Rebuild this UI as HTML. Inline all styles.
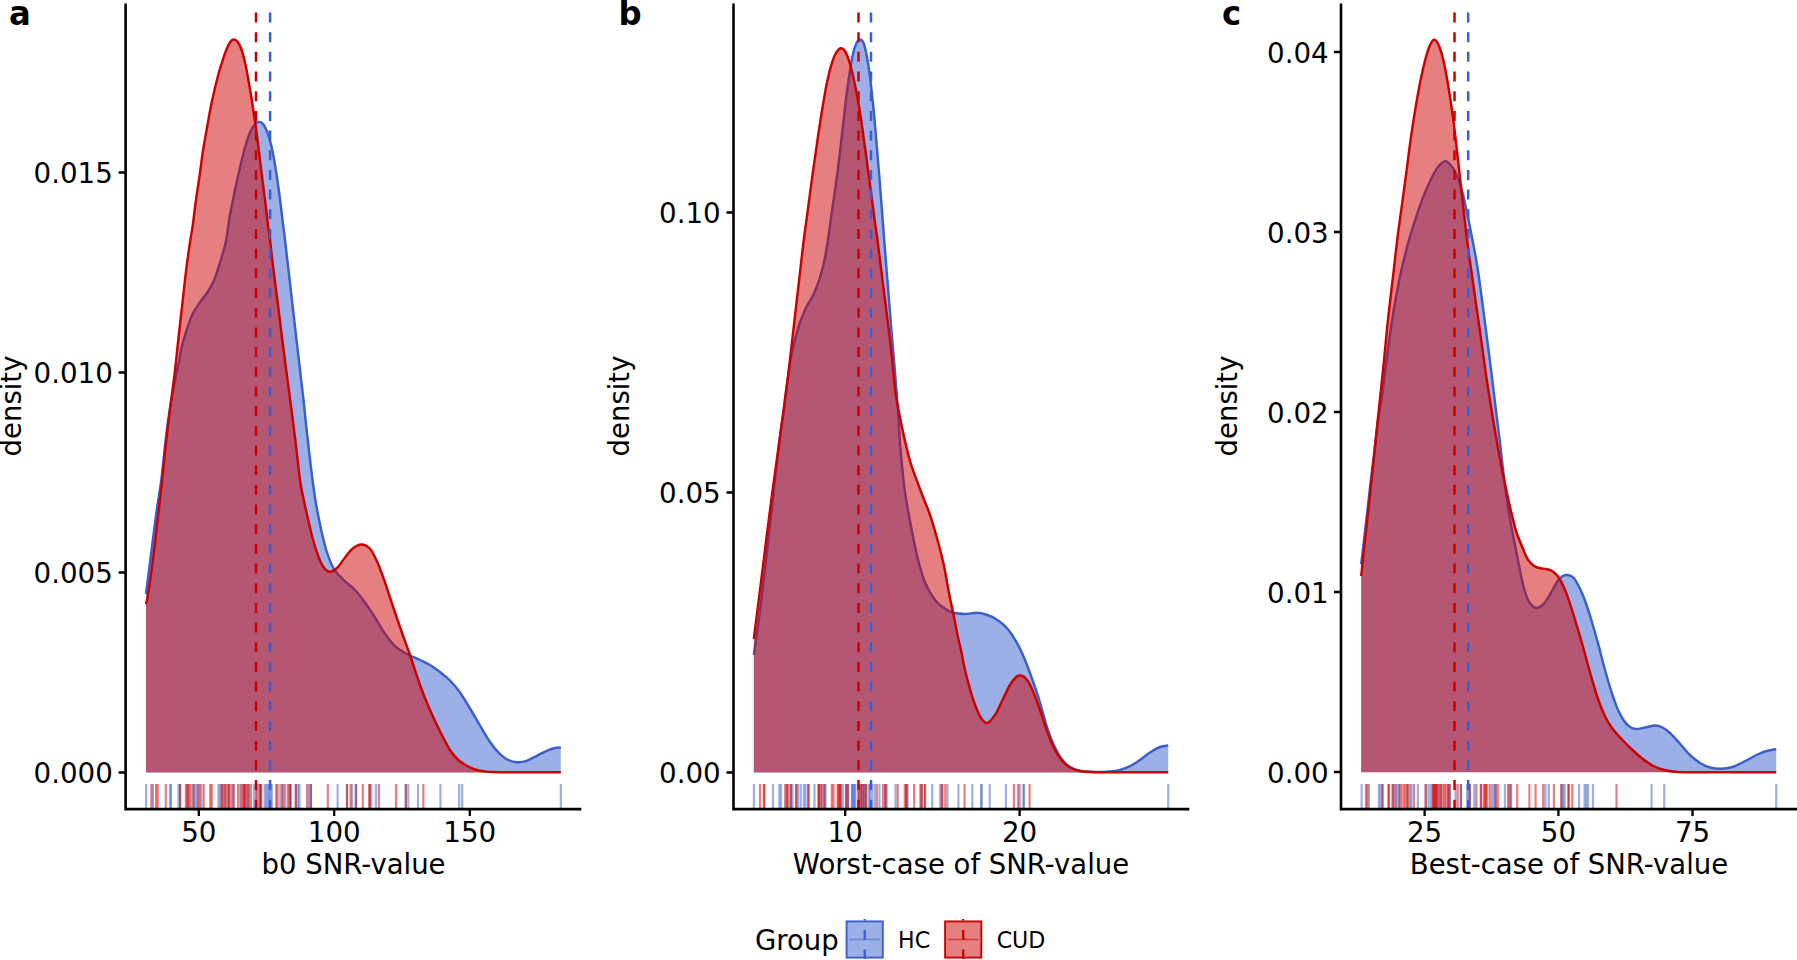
<!DOCTYPE html>
<html lang="en"><head><meta charset="utf-8"><title>SNR density plots</title>
<style>html,body{margin:0;padding:0;background:#fff;overflow:hidden}svg{display:block}text{font-family:'DejaVu Sans','Liberation Sans',sans-serif;fill:#000}</style>
</head><body>
<svg width="1797" height="960" viewBox="0 0 1797 960">
<rect width="1797" height="960" fill="#fff"/>
<g>
<path d="M146 772.5 L146 593.8C146.7 588.5 148.7 572.7 150 562.5C151.3 552.3 152.5 542.1 153.8 532.5C155 522.9 156.2 513.8 157.5 505C158.8 496.2 160.2 488.8 161.3 480C162.4 471.2 163.3 461.7 164.3 452.5C165.3 443.3 166.3 433.8 167.5 425C168.7 416.2 170.3 406.2 171.3 400C172.3 393.8 172.8 392.3 173.6 388C174.4 383.7 175.2 378.7 176.2 374C177.2 369.3 178.6 364 179.4 360C180.2 356 180.2 353.8 181 350C181.8 346.2 183.2 341.7 184.4 337.5C185.6 333.3 186.9 329.2 188.4 325C189.9 320.8 191.4 316.2 193.3 312.5C195.2 308.8 197.5 305.8 199.8 302.5C202.1 299.2 205 296 207.3 292.5C209.6 289 211.7 285.4 213.6 281.2C215.5 277.1 216.9 272.3 218.5 267.5C220.1 262.7 221.7 257.1 223 252.5C224.3 247.9 225.1 246.2 226.2 240C227.4 233.8 228.5 223.3 230 215C231.5 206.7 233.3 197.9 235 190C236.7 182.1 238.3 174.6 240 167.5C241.7 160.4 243.3 153.3 245 147.5C246.7 141.7 248.3 136.4 250 132.5C251.7 128.6 253.5 126 255 124.2C256.5 122.5 257.8 121.6 259.2 121.8C260.7 121.9 262.2 122.6 263.8 125C265.3 127.4 267.1 130.8 268.8 136.2C270.4 141.7 272.1 148.5 273.8 157.5C275.4 166.5 277.3 179.6 278.8 190C280.2 200.4 281.5 211.7 282.5 220C283.5 228.3 284 231.2 285 240C286 248.8 287.5 261.7 288.8 272.5C290 283.3 291.2 294.2 292.5 305C293.8 315.8 295 326.7 296.2 337.5C297.5 348.3 298.8 359.2 300 370C301.2 380.8 302.5 391.2 303.8 402.5C305 413.8 306 424.6 307.5 437.5C309 450.4 311 468.8 312.5 480C314 491.2 314.8 496.7 316.2 505C317.7 513.3 319.6 522.5 321.2 530C322.9 537.5 324.2 543.5 326.2 550C328.3 556.5 330.6 563.5 333.8 568.8C336.9 574 341.5 577.7 345 581.2C348.5 584.8 351.7 586.5 355 590C358.3 593.5 361.7 597.9 365 602.5C368.3 607.1 371.7 612.3 375 617.5C378.3 622.7 381.7 629 385 633.8C388.3 638.5 391.7 643 395 646.2C398.3 649.5 400.8 650.7 405 653C409.2 655.3 415.8 658 420 660C424.2 662 426.7 663 430 665C433.3 667 436.7 669.4 440 672C443.3 674.6 446.7 677.1 450 680.5C453.3 683.9 456.7 687.8 460 692.5C463.3 697.2 466.7 703 470 708.5C473.3 714 476.7 719.9 480 725.5C483.3 731.1 486.7 737.2 490 742C493.3 746.8 496.9 751.2 500 754.2C503.1 757.2 505.4 758.7 508.3 760C511.2 761.3 514.4 762.1 517.5 762.2C520.6 762.3 523.5 761.9 526.7 760.8C529.9 759.7 533.4 757.5 536.7 755.8C540 754.1 543.7 752.1 546.7 750.8C549.8 749.5 552.6 748.5 555 748C557.4 747.5 559.8 747.6 560.8 747.5L560.8 772.5Z" fill="#3A5FCD" fill-opacity="0.5"/>
<path d="M146 593.8C146.7 588.5 148.7 572.7 150 562.5C151.3 552.3 152.5 542.1 153.8 532.5C155 522.9 156.2 513.8 157.5 505C158.8 496.2 160.2 488.8 161.3 480C162.4 471.2 163.3 461.7 164.3 452.5C165.3 443.3 166.3 433.8 167.5 425C168.7 416.2 170.3 406.2 171.3 400C172.3 393.8 172.8 392.3 173.6 388C174.4 383.7 175.2 378.7 176.2 374C177.2 369.3 178.6 364 179.4 360C180.2 356 180.2 353.8 181 350C181.8 346.2 183.2 341.7 184.4 337.5C185.6 333.3 186.9 329.2 188.4 325C189.9 320.8 191.4 316.2 193.3 312.5C195.2 308.8 197.5 305.8 199.8 302.5C202.1 299.2 205 296 207.3 292.5C209.6 289 211.7 285.4 213.6 281.2C215.5 277.1 216.9 272.3 218.5 267.5C220.1 262.7 221.7 257.1 223 252.5C224.3 247.9 225.1 246.2 226.2 240C227.4 233.8 228.5 223.3 230 215C231.5 206.7 233.3 197.9 235 190C236.7 182.1 238.3 174.6 240 167.5C241.7 160.4 243.3 153.3 245 147.5C246.7 141.7 248.3 136.4 250 132.5C251.7 128.6 253.5 126 255 124.2C256.5 122.5 257.8 121.6 259.2 121.8C260.7 121.9 262.2 122.6 263.8 125C265.3 127.4 267.1 130.8 268.8 136.2C270.4 141.7 272.1 148.5 273.8 157.5C275.4 166.5 277.3 179.6 278.8 190C280.2 200.4 281.5 211.7 282.5 220C283.5 228.3 284 231.2 285 240C286 248.8 287.5 261.7 288.8 272.5C290 283.3 291.2 294.2 292.5 305C293.8 315.8 295 326.7 296.2 337.5C297.5 348.3 298.8 359.2 300 370C301.2 380.8 302.5 391.2 303.8 402.5C305 413.8 306 424.6 307.5 437.5C309 450.4 311 468.8 312.5 480C314 491.2 314.8 496.7 316.2 505C317.7 513.3 319.6 522.5 321.2 530C322.9 537.5 324.2 543.5 326.2 550C328.3 556.5 330.6 563.5 333.8 568.8C336.9 574 341.5 577.7 345 581.2C348.5 584.8 351.7 586.5 355 590C358.3 593.5 361.7 597.9 365 602.5C368.3 607.1 371.7 612.3 375 617.5C378.3 622.7 381.7 629 385 633.8C388.3 638.5 391.7 643 395 646.2C398.3 649.5 400.8 650.7 405 653C409.2 655.3 415.8 658 420 660C424.2 662 426.7 663 430 665C433.3 667 436.7 669.4 440 672C443.3 674.6 446.7 677.1 450 680.5C453.3 683.9 456.7 687.8 460 692.5C463.3 697.2 466.7 703 470 708.5C473.3 714 476.7 719.9 480 725.5C483.3 731.1 486.7 737.2 490 742C493.3 746.8 496.9 751.2 500 754.2C503.1 757.2 505.4 758.7 508.3 760C511.2 761.3 514.4 762.1 517.5 762.2C520.6 762.3 523.5 761.9 526.7 760.8C529.9 759.7 533.4 757.5 536.7 755.8C540 754.1 543.7 752.1 546.7 750.8C549.8 749.5 552.6 748.5 555 748C557.4 747.5 559.8 747.6 560.8 747.5" fill="none" stroke="#3A5FCD" stroke-width="2.45" stroke-linejoin="round"/>
<path d="M146 772.5 L146 604.2C146.2 603.1 146.6 602.8 147.5 597.5C148.4 592.2 150 581.7 151.2 572.5C152.5 563.3 153.8 552.9 155 542.5C156.2 532.1 157.6 520.4 158.8 510C159.9 499.6 161.2 489.6 162.2 480C163.2 470.4 164 461.7 165 452.5C166 443.3 166.9 434.6 168.1 425C169.2 415.4 170.7 405 171.9 395C173.2 385 174.5 375 175.6 365C176.7 355 177.6 345.4 178.8 335C179.9 324.6 181.2 313.5 182.5 302.5C183.8 291.5 185 279.2 186.3 268.8C187.6 258.3 189.3 247.3 190.4 240C191.5 232.7 191.9 231.7 192.8 225C193.7 218.3 194.8 208.3 196 200C197.2 191.7 198.5 183.3 199.7 175C200.9 166.7 201.8 158.3 203.1 150C204.4 141.7 206 133.3 207.5 125C209 116.7 210.4 108.3 212.2 100C214 91.7 216.6 81.2 218.2 75C219.8 68.8 220.7 66.7 222 62.5C223.3 58.3 224.9 53.4 226.3 50C227.7 46.6 229 43.8 230.2 42C231.4 40.2 232.5 39.5 233.8 39.5C235 39.5 236.3 40 237.6 41.7C238.9 43.5 240.4 46.5 241.6 50C242.8 53.5 244 58.3 245 62.5C246 66.7 246.4 68.8 247.5 75C248.6 81.2 250.4 91.7 251.8 100C253.1 108.3 254.3 116.7 255.5 125C256.7 133.3 257.7 141.7 258.8 150C259.8 158.3 260.7 166.7 261.8 175C262.8 183.3 264 191.7 265 200C266 208.3 267.2 218.3 268 225C268.8 231.7 269 232.1 270 240C271 247.9 272.4 261.7 273.8 272.5C275.1 283.3 276.6 294.2 278 305C279.4 315.8 280.6 326.7 282 337.5C283.4 348.3 284.8 359.2 286.2 370C287.7 380.8 289 391.2 290.5 402.5C292 413.8 293.4 424.6 295 437.5C296.6 450.4 298.5 469.6 300 480C301.5 490.4 302.3 492.9 303.8 500C305.2 507.1 307.1 515.4 308.8 522.5C310.4 529.6 312.1 536.7 313.8 542.5C315.4 548.3 317.1 553.3 318.8 557.5C320.4 561.7 321.9 565.1 323.8 567.5C325.6 569.9 327.7 571.8 330 571.8C332.3 571.8 335 569.9 337.5 567.5C340 565.1 342.5 560.6 345 557.5C347.5 554.4 349.8 550.9 352.5 548.8C355.2 546.6 358.3 544.5 361.2 544.5C364.2 544.5 367.3 545.8 370 548.8C372.7 551.8 375 556.9 377.5 562.5C380 568.1 382.1 574.2 385 582.5C387.9 590.8 391.7 602.7 395 612.5C398.3 622.3 402.5 634.2 405 641.2C407.5 648.3 407.5 647.7 410 655C412.5 662.3 416.7 675.8 420 685C423.3 694.2 426.7 702.3 430 710C433.3 717.7 436.7 724.6 440 731.2C443.3 737.9 446.9 745.2 450 750C453.1 754.8 455.5 757.4 458.3 760C461.1 762.6 463.9 764.2 466.7 765.8C469.5 767.4 472.2 768.6 475 769.5C477.8 770.4 480.2 770.8 483.3 771.2C486.4 771.6 487.2 771.8 493.3 772C499.4 772.2 508.8 772.2 520 772.3C531.2 772.3 554 772.3 560.8 772.3L560.8 772.5Z" fill="#CD0000" fill-opacity="0.5"/>
<path d="M146 604.2C146.2 603.1 146.6 602.8 147.5 597.5C148.4 592.2 150 581.7 151.2 572.5C152.5 563.3 153.8 552.9 155 542.5C156.2 532.1 157.6 520.4 158.8 510C159.9 499.6 161.2 489.6 162.2 480C163.2 470.4 164 461.7 165 452.5C166 443.3 166.9 434.6 168.1 425C169.2 415.4 170.7 405 171.9 395C173.2 385 174.5 375 175.6 365C176.7 355 177.6 345.4 178.8 335C179.9 324.6 181.2 313.5 182.5 302.5C183.8 291.5 185 279.2 186.3 268.8C187.6 258.3 189.3 247.3 190.4 240C191.5 232.7 191.9 231.7 192.8 225C193.7 218.3 194.8 208.3 196 200C197.2 191.7 198.5 183.3 199.7 175C200.9 166.7 201.8 158.3 203.1 150C204.4 141.7 206 133.3 207.5 125C209 116.7 210.4 108.3 212.2 100C214 91.7 216.6 81.2 218.2 75C219.8 68.8 220.7 66.7 222 62.5C223.3 58.3 224.9 53.4 226.3 50C227.7 46.6 229 43.8 230.2 42C231.4 40.2 232.5 39.5 233.8 39.5C235 39.5 236.3 40 237.6 41.7C238.9 43.5 240.4 46.5 241.6 50C242.8 53.5 244 58.3 245 62.5C246 66.7 246.4 68.8 247.5 75C248.6 81.2 250.4 91.7 251.8 100C253.1 108.3 254.3 116.7 255.5 125C256.7 133.3 257.7 141.7 258.8 150C259.8 158.3 260.7 166.7 261.8 175C262.8 183.3 264 191.7 265 200C266 208.3 267.2 218.3 268 225C268.8 231.7 269 232.1 270 240C271 247.9 272.4 261.7 273.8 272.5C275.1 283.3 276.6 294.2 278 305C279.4 315.8 280.6 326.7 282 337.5C283.4 348.3 284.8 359.2 286.2 370C287.7 380.8 289 391.2 290.5 402.5C292 413.8 293.4 424.6 295 437.5C296.6 450.4 298.5 469.6 300 480C301.5 490.4 302.3 492.9 303.8 500C305.2 507.1 307.1 515.4 308.8 522.5C310.4 529.6 312.1 536.7 313.8 542.5C315.4 548.3 317.1 553.3 318.8 557.5C320.4 561.7 321.9 565.1 323.8 567.5C325.6 569.9 327.7 571.8 330 571.8C332.3 571.8 335 569.9 337.5 567.5C340 565.1 342.5 560.6 345 557.5C347.5 554.4 349.8 550.9 352.5 548.8C355.2 546.6 358.3 544.5 361.2 544.5C364.2 544.5 367.3 545.8 370 548.8C372.7 551.8 375 556.9 377.5 562.5C380 568.1 382.1 574.2 385 582.5C387.9 590.8 391.7 602.7 395 612.5C398.3 622.3 402.5 634.2 405 641.2C407.5 648.3 407.5 647.7 410 655C412.5 662.3 416.7 675.8 420 685C423.3 694.2 426.7 702.3 430 710C433.3 717.7 436.7 724.6 440 731.2C443.3 737.9 446.9 745.2 450 750C453.1 754.8 455.5 757.4 458.3 760C461.1 762.6 463.9 764.2 466.7 765.8C469.5 767.4 472.2 768.6 475 769.5C477.8 770.4 480.2 770.8 483.3 771.2C486.4 771.6 487.2 771.8 493.3 772C499.4 772.2 508.8 772.2 520 772.3C531.2 772.3 554 772.3 560.8 772.3" fill="none" stroke="#CD0000" stroke-width="2.45" stroke-linejoin="round"/>
<g stroke="#3A5FCD" stroke-opacity="0.5" stroke-width="2.2" fill="none"><path d="M146.1 784V808.5"/><path d="M152.9 784V808.5"/><path d="M170.2 784V808.5"/><path d="M171 784V808.5"/><path d="M178.5 784V808.5"/><path d="M180.1 784V808.5"/><path d="M187.6 784V808.5"/><path d="M193.4 784V808.5"/><path d="M195.2 784V808.5"/><path d="M197 784V808.5"/><path d="M201.4 784V808.5"/><path d="M218.4 784V808.5"/><path d="M220.1 784V808.5"/><path d="M225.5 784V808.5"/><path d="M229 784V808.5"/><path d="M233.5 784V808.5"/><path d="M240.2 784V808.5"/><path d="M245.1 784V808.5"/><path d="M248.6 784V808.5"/><path d="M254 784V808.5"/><path d="M259.8 784V808.5"/><path d="M261.1 784V808.5"/><path d="M264.7 784V808.5"/><path d="M266.3 784V808.5"/><path d="M267.8 784V808.5"/><path d="M269.2 784V808.5"/><path d="M270.5 784V808.5"/><path d="M271.8 784V808.5"/><path d="M280.3 784V808.5"/><path d="M285.1 784V808.5"/><path d="M290.6 784V808.5"/><path d="M295.8 784V808.5"/><path d="M298 784V808.5"/><path d="M299.4 784V808.5"/><path d="M308.9 784V808.5"/><path d="M310.9 784V808.5"/><path d="M337.6 784V808.5"/><path d="M347 784V808.5"/><path d="M352.2 784V808.5"/><path d="M355.9 784V808.5"/><path d="M371.2 784V808.5"/><path d="M375.9 784V808.5"/><path d="M405.8 784V808.5"/><path d="M408.3 784V808.5"/><path d="M418 784V808.5"/><path d="M440.5 784V808.5"/><path d="M459.2 784V808.5"/><path d="M462.2 784V808.5"/><path d="M560.8 784V808.5"/></g>
<g stroke="#CD0000" stroke-opacity="0.5" stroke-width="2.2" fill="none"><path d="M256 784V808.5"/><path d="M151.4 784V808.5"/><path d="M156 784V808.5"/><path d="M157.8 784V808.5"/><path d="M165.8 784V808.5"/><path d="M180.1 784V808.5"/><path d="M185.9 784V808.5"/><path d="M187.6 784V808.5"/><path d="M189 784V808.5"/><path d="M190.8 784V808.5"/><path d="M193.4 784V808.5"/><path d="M198.3 784V808.5"/><path d="M199.7 784V808.5"/><path d="M203.7 784V808.5"/><path d="M210.3 784V808.5"/><path d="M211.7 784V808.5"/><path d="M221.6 784V808.5"/><path d="M222.2 784V808.5"/><path d="M223.7 784V808.5"/><path d="M225.5 784V808.5"/><path d="M227.7 784V808.5"/><path d="M229 784V808.5"/><path d="M231.3 784V808.5"/><path d="M233.5 784V808.5"/><path d="M238 784V808.5"/><path d="M241.5 784V808.5"/><path d="M243.3 784V808.5"/><path d="M243.8 784V808.5"/><path d="M245.1 784V808.5"/><path d="M246.9 784V808.5"/><path d="M248.6 784V808.5"/><path d="M250.9 784V808.5"/><path d="M257.5 784V808.5"/><path d="M259.8 784V808.5"/><path d="M261.1 784V808.5"/><path d="M276.2 784V808.5"/><path d="M277.6 784V808.5"/><path d="M282 784V808.5"/><path d="M283.4 784V808.5"/><path d="M287.8 784V808.5"/><path d="M289.6 784V808.5"/><path d="M290.4 784V808.5"/><path d="M295.8 784V808.5"/><path d="M307.1 784V808.5"/><path d="M310.9 784V808.5"/><path d="M327.8 784V808.5"/><path d="M347 784V808.5"/><path d="M350.6 784V808.5"/><path d="M355.9 784V808.5"/><path d="M362.8 784V808.5"/><path d="M369.2 784V808.5"/><path d="M369.8 784V808.5"/><path d="M378.9 784V808.5"/><path d="M396 784V808.5"/><path d="M405.8 784V808.5"/><path d="M423.3 784V808.5"/></g>
<path d="M270.1 12.5V808.5" stroke="#3A5FCD" stroke-width="2.5" stroke-dasharray="10 9.68" fill="none"/>
<path d="M256 12.5V808.5" stroke="#CD0000" stroke-width="2.5" stroke-dasharray="10 9.68" fill="none"/>
<path d="M125.6 4.7V809.1H580" stroke="#000" stroke-width="2.6" fill="none" stroke-linecap="square" stroke-linejoin="miter"/>
<path d="M118.6 772.5H125.6M118.6 572.5H125.6M118.6 372.5H125.6M118.6 172.5H125.6M198.8 809.1V816.1M334.2 809.1V816.1M469.8 809.1V816.1" stroke="#000" stroke-width="2.3" fill="none"/>
<text x="112.8" y="783.1" text-anchor="end" font-size="27.7">0.000</text>
<text x="112.8" y="583.1" text-anchor="end" font-size="27.7">0.005</text>
<text x="112.8" y="383.1" text-anchor="end" font-size="27.7">0.010</text>
<text x="112.8" y="183.1" text-anchor="end" font-size="27.7">0.015</text>
<text x="198.8" y="842" text-anchor="middle" font-size="27.7">50</text>
<text x="334.2" y="842" text-anchor="middle" font-size="27.7">100</text>
<text x="469.8" y="842" text-anchor="middle" font-size="27.7">150</text>
<text x="353.5" y="874" text-anchor="middle" font-size="27.5">b0 SNR-value</text>
<text transform="translate(20.9 406) rotate(-90)" text-anchor="middle" font-size="27.5">density</text>
<text transform="translate(8.9 24.6) scale(0.945 1)" font-size="34.2" font-weight="bold">a</text>
</g>
<g>
<path d="M753.8 772.5 L753.8 655C754.6 649.2 757.3 630.8 758.8 620C760.2 609.2 761 602.1 762.5 590C764 577.9 765.6 564.2 767.5 547.5C769.4 530.8 771.8 507.9 773.8 490C775.8 472.1 778 452.5 779.5 440C781 427.5 781.8 423.7 783 415C784.2 406.3 785.2 397.2 786.5 388C787.8 378.8 789.1 368 790.5 360C791.9 352 793.4 346.2 795 340C796.6 333.8 798.1 327.9 800 322.5C801.9 317.1 804 312.3 806.2 307.5C808.5 302.7 811.5 298.8 813.8 293.8C816 288.8 818.1 283.5 820 277.5C821.9 271.5 823.7 263.8 825 257.5C826.3 251.2 826.8 248.3 828 240C829.2 231.7 830.9 218.8 832.5 207.5C834.1 196.2 835.8 185.4 837.5 172.5C839.2 159.6 840.8 144.2 842.5 130C844.2 115.8 845.8 99.8 847.5 87.5C849.2 75.2 851 63.5 852.5 56.2C854 49 855 46.5 856.2 43.8C857.5 41 858.8 39.5 860 39.5C861.2 39.5 862.5 40.3 863.8 43.8C865 47.2 866.2 52.7 867.5 60C868.8 67.3 870 76.7 871.2 87.5C872.5 98.3 873.8 111.2 875 125C876.2 138.8 877.5 154.6 878.8 170C880 185.4 881.6 205.8 882.5 217.5C883.4 229.2 883.6 232.1 884.2 240C884.9 247.9 885.5 255.4 886.2 265C887 274.6 887.9 287.1 888.8 297.5C889.6 307.9 890.4 317.5 891.2 327.5C892.1 337.5 892.9 347.5 893.8 357.5C894.6 367.5 895.5 377.9 896.2 387.5C897 397.1 897.6 406.1 898.2 415C898.8 423.9 899.1 432.3 899.8 441C900.4 449.7 901.2 458 902.1 467C903 476 903.9 484.9 905.4 495C906.9 505.1 909.2 517.1 911.2 527.5C913.3 537.9 915.2 548.3 917.5 557.5C919.8 566.7 922.1 575.4 925 582.5C927.9 589.6 931.7 595.6 935 600C938.3 604.4 942.1 606.7 945 608.8C947.9 610.8 949.2 611.6 952.5 612.5C955.8 613.4 960.8 614 965 614C969.2 614 973.8 612.6 977.5 612.8C981.2 612.9 984.2 613.8 987.5 615C990.8 616.2 994.2 617.7 997.5 620C1000.8 622.3 1004.2 624.8 1007.5 628.8C1010.8 632.7 1014.6 638.5 1017.5 643.8C1020.4 649 1022.5 654 1025 660C1027.5 666 1030 672.9 1032.5 680C1035 687.1 1037.5 694.4 1040 702.5C1042.5 710.6 1045 721.2 1047.5 728.8C1050 736.2 1052.5 742.3 1055 747.5C1057.5 752.7 1060 756.8 1062.5 760C1065 763.2 1067.1 765.2 1070 767C1072.9 768.8 1075.8 769.9 1080 770.8C1084.2 771.6 1090 771.9 1095 772C1100 772.1 1105.8 771.8 1110 771.5C1114.2 771.2 1116.7 770.9 1120 770C1123.3 769.1 1126.7 767.9 1130 766.2C1133.3 764.6 1136.7 762.3 1140 760C1143.3 757.7 1146.7 754.7 1150 752.5C1153.3 750.3 1157 748.2 1160 747C1163 745.8 1166.9 745.8 1168.2 745.5L1168.2 772.5Z" fill="#3A5FCD" fill-opacity="0.5"/>
<path d="M753.8 655C754.6 649.2 757.3 630.8 758.8 620C760.2 609.2 761 602.1 762.5 590C764 577.9 765.6 564.2 767.5 547.5C769.4 530.8 771.8 507.9 773.8 490C775.8 472.1 778 452.5 779.5 440C781 427.5 781.8 423.7 783 415C784.2 406.3 785.2 397.2 786.5 388C787.8 378.8 789.1 368 790.5 360C791.9 352 793.4 346.2 795 340C796.6 333.8 798.1 327.9 800 322.5C801.9 317.1 804 312.3 806.2 307.5C808.5 302.7 811.5 298.8 813.8 293.8C816 288.8 818.1 283.5 820 277.5C821.9 271.5 823.7 263.8 825 257.5C826.3 251.2 826.8 248.3 828 240C829.2 231.7 830.9 218.8 832.5 207.5C834.1 196.2 835.8 185.4 837.5 172.5C839.2 159.6 840.8 144.2 842.5 130C844.2 115.8 845.8 99.8 847.5 87.5C849.2 75.2 851 63.5 852.5 56.2C854 49 855 46.5 856.2 43.8C857.5 41 858.8 39.5 860 39.5C861.2 39.5 862.5 40.3 863.8 43.8C865 47.2 866.2 52.7 867.5 60C868.8 67.3 870 76.7 871.2 87.5C872.5 98.3 873.8 111.2 875 125C876.2 138.8 877.5 154.6 878.8 170C880 185.4 881.6 205.8 882.5 217.5C883.4 229.2 883.6 232.1 884.2 240C884.9 247.9 885.5 255.4 886.2 265C887 274.6 887.9 287.1 888.8 297.5C889.6 307.9 890.4 317.5 891.2 327.5C892.1 337.5 892.9 347.5 893.8 357.5C894.6 367.5 895.5 377.9 896.2 387.5C897 397.1 897.6 406.1 898.2 415C898.8 423.9 899.1 432.3 899.8 441C900.4 449.7 901.2 458 902.1 467C903 476 903.9 484.9 905.4 495C906.9 505.1 909.2 517.1 911.2 527.5C913.3 537.9 915.2 548.3 917.5 557.5C919.8 566.7 922.1 575.4 925 582.5C927.9 589.6 931.7 595.6 935 600C938.3 604.4 942.1 606.7 945 608.8C947.9 610.8 949.2 611.6 952.5 612.5C955.8 613.4 960.8 614 965 614C969.2 614 973.8 612.6 977.5 612.8C981.2 612.9 984.2 613.8 987.5 615C990.8 616.2 994.2 617.7 997.5 620C1000.8 622.3 1004.2 624.8 1007.5 628.8C1010.8 632.7 1014.6 638.5 1017.5 643.8C1020.4 649 1022.5 654 1025 660C1027.5 666 1030 672.9 1032.5 680C1035 687.1 1037.5 694.4 1040 702.5C1042.5 710.6 1045 721.2 1047.5 728.8C1050 736.2 1052.5 742.3 1055 747.5C1057.5 752.7 1060 756.8 1062.5 760C1065 763.2 1067.1 765.2 1070 767C1072.9 768.8 1075.8 769.9 1080 770.8C1084.2 771.6 1090 771.9 1095 772C1100 772.1 1105.8 771.8 1110 771.5C1114.2 771.2 1116.7 770.9 1120 770C1123.3 769.1 1126.7 767.9 1130 766.2C1133.3 764.6 1136.7 762.3 1140 760C1143.3 757.7 1146.7 754.7 1150 752.5C1153.3 750.3 1157 748.2 1160 747C1163 745.8 1166.9 745.8 1168.2 745.5" fill="none" stroke="#3A5FCD" stroke-width="2.45" stroke-linejoin="round"/>
<path d="M753.8 772.5 L753.8 638.8C754.8 630.6 757.9 606.5 760 590C762.1 573.5 764.2 556.5 766.2 540C768.3 523.5 770.6 505.2 772.5 491C774.4 476.8 776 465.5 777.5 455C779 444.5 780 437.2 781.2 428C782.5 418.8 783.8 409.7 785 400C786.2 390.3 787.5 380.4 788.8 370C790 359.6 791.2 348.3 792.5 337.5C793.8 326.7 795 315.8 796.2 305C797.5 294.2 798.8 283.3 800 272.5C801.2 261.7 802.5 250 803.8 240C805 230 806 223.3 807.5 212.5C809 201.7 810.8 187.1 812.5 175C814.2 162.9 815.8 151.2 817.5 140C819.2 128.8 820.8 117.5 822.5 107.5C824.2 97.5 825.8 87.7 827.5 80C829.2 72.3 831 65.8 832.5 61.2C834 56.7 834.9 54.7 836.2 52.5C837.6 50.3 839.3 48.5 840.8 48.2C842.2 48 843.5 48.7 845 51.2C846.5 53.8 848.3 58.1 850 63.8C851.7 69.4 853.3 76.9 855 85C856.7 93.1 858.3 102.1 860 112.5C861.7 122.9 863.3 135.4 865 147.5C866.7 159.6 868.3 172.5 870 185C871.7 197.5 873.8 213.3 875 222.5C876.2 231.7 876.5 232.1 877.5 240C878.5 247.9 880 260 881.2 270C882.5 280 883.8 290 885 300C886.2 310 887.5 320 888.8 330C890 340 891.1 350 892.2 360C893.3 370 893.9 380.8 895.1 390C896.3 399.2 897.9 406.7 899.5 415C901.1 423.3 903 432.1 904.8 440C906.6 447.9 908.5 455.7 910.5 462.5C912.5 469.3 914.9 475.2 917 481C919.1 486.8 920.8 491.3 923 497C925.2 502.7 927.6 507.8 930 515C932.4 522.2 935.2 531.7 937.5 540C939.8 548.3 941.7 555.3 943.8 565C945.8 574.7 948.1 588.5 950 598C951.9 607.5 953.8 615.8 955 622C956.2 628.2 956.5 630.2 957.5 635C958.5 639.8 960 645.2 961.2 651C962.5 656.8 963.1 662.2 965 670C966.9 677.8 970 689.8 972.5 697.5C975 705.2 977.6 712 980 716.2C982.4 720.5 984.5 723.2 987 723C989.5 722.8 992.4 718.8 995 715C997.6 711.2 1000 705 1002.5 700C1005 695 1007.7 688.8 1010 685C1012.3 681.2 1014.5 678.6 1016.2 677C1018 675.4 1019.1 675.2 1020.8 675.5C1022.4 675.8 1024.3 676.3 1026.2 678.8C1028.2 681.2 1030.2 684.8 1032.5 690C1034.8 695.2 1037.5 702.9 1040 710C1042.5 717.1 1045 725.8 1047.5 732.5C1050 739.2 1052.5 745.2 1055 750C1057.5 754.8 1060 758.3 1062.5 761.2C1065 764.2 1067.1 765.9 1070 767.5C1072.9 769.1 1075.8 770.2 1080 771C1084.2 771.8 1086.7 772 1095 772.2C1103.3 772.5 1117.8 772.3 1130 772.3C1142.2 772.3 1161.9 772.3 1168.2 772.3L1168.2 772.5Z" fill="#CD0000" fill-opacity="0.5"/>
<path d="M753.8 638.8C754.8 630.6 757.9 606.5 760 590C762.1 573.5 764.2 556.5 766.2 540C768.3 523.5 770.6 505.2 772.5 491C774.4 476.8 776 465.5 777.5 455C779 444.5 780 437.2 781.2 428C782.5 418.8 783.8 409.7 785 400C786.2 390.3 787.5 380.4 788.8 370C790 359.6 791.2 348.3 792.5 337.5C793.8 326.7 795 315.8 796.2 305C797.5 294.2 798.8 283.3 800 272.5C801.2 261.7 802.5 250 803.8 240C805 230 806 223.3 807.5 212.5C809 201.7 810.8 187.1 812.5 175C814.2 162.9 815.8 151.2 817.5 140C819.2 128.8 820.8 117.5 822.5 107.5C824.2 97.5 825.8 87.7 827.5 80C829.2 72.3 831 65.8 832.5 61.2C834 56.7 834.9 54.7 836.2 52.5C837.6 50.3 839.3 48.5 840.8 48.2C842.2 48 843.5 48.7 845 51.2C846.5 53.8 848.3 58.1 850 63.8C851.7 69.4 853.3 76.9 855 85C856.7 93.1 858.3 102.1 860 112.5C861.7 122.9 863.3 135.4 865 147.5C866.7 159.6 868.3 172.5 870 185C871.7 197.5 873.8 213.3 875 222.5C876.2 231.7 876.5 232.1 877.5 240C878.5 247.9 880 260 881.2 270C882.5 280 883.8 290 885 300C886.2 310 887.5 320 888.8 330C890 340 891.1 350 892.2 360C893.3 370 893.9 380.8 895.1 390C896.3 399.2 897.9 406.7 899.5 415C901.1 423.3 903 432.1 904.8 440C906.6 447.9 908.5 455.7 910.5 462.5C912.5 469.3 914.9 475.2 917 481C919.1 486.8 920.8 491.3 923 497C925.2 502.7 927.6 507.8 930 515C932.4 522.2 935.2 531.7 937.5 540C939.8 548.3 941.7 555.3 943.8 565C945.8 574.7 948.1 588.5 950 598C951.9 607.5 953.8 615.8 955 622C956.2 628.2 956.5 630.2 957.5 635C958.5 639.8 960 645.2 961.2 651C962.5 656.8 963.1 662.2 965 670C966.9 677.8 970 689.8 972.5 697.5C975 705.2 977.6 712 980 716.2C982.4 720.5 984.5 723.2 987 723C989.5 722.8 992.4 718.8 995 715C997.6 711.2 1000 705 1002.5 700C1005 695 1007.7 688.8 1010 685C1012.3 681.2 1014.5 678.6 1016.2 677C1018 675.4 1019.1 675.2 1020.8 675.5C1022.4 675.8 1024.3 676.3 1026.2 678.8C1028.2 681.2 1030.2 684.8 1032.5 690C1034.8 695.2 1037.5 702.9 1040 710C1042.5 717.1 1045 725.8 1047.5 732.5C1050 739.2 1052.5 745.2 1055 750C1057.5 754.8 1060 758.3 1062.5 761.2C1065 764.2 1067.1 765.9 1070 767.5C1072.9 769.1 1075.8 770.2 1080 771C1084.2 771.8 1086.7 772 1095 772.2C1103.3 772.5 1117.8 772.3 1130 772.3C1142.2 772.3 1161.9 772.3 1168.2 772.3" fill="none" stroke="#CD0000" stroke-width="2.45" stroke-linejoin="round"/>
<g stroke="#3A5FCD" stroke-opacity="0.5" stroke-width="2.2" fill="none"><path d="M852.5 784V808.5"/><path d="M854.4 784V808.5"/><path d="M753.9 784V808.5"/><path d="M773 784V808.5"/><path d="M779.3 784V808.5"/><path d="M781.1 784V808.5"/><path d="M786.9 784V808.5"/><path d="M790.9 784V808.5"/><path d="M792.6 784V808.5"/><path d="M796.2 784V808.5"/><path d="M798 784V808.5"/><path d="M800.7 784V808.5"/><path d="M803.8 784V808.5"/><path d="M805.6 784V808.5"/><path d="M814.5 784V808.5"/><path d="M821.6 784V808.5"/><path d="M824.3 784V808.5"/><path d="M825.6 784V808.5"/><path d="M843 784V808.5"/><path d="M846.1 784V808.5"/><path d="M847.9 784V808.5"/><path d="M851.9 784V808.5"/><path d="M853.6 784V808.5"/><path d="M855.4 784V808.5"/><path d="M860.8 784V808.5"/><path d="M862.5 784V808.5"/><path d="M864.3 784V808.5"/><path d="M866.1 784V808.5"/><path d="M868.8 784V808.5"/><path d="M870 784V808.5"/><path d="M872 784V808.5"/><path d="M874.6 784V808.5"/><path d="M879.5 784V808.5"/><path d="M885.2 784V808.5"/><path d="M895.5 784V808.5"/><path d="M907.6 784V808.5"/><path d="M921.7 784V808.5"/><path d="M932.2 784V808.5"/><path d="M940.2 784V808.5"/><path d="M947.5 784V808.5"/><path d="M958.4 784V808.5"/><path d="M972.3 784V808.5"/><path d="M981.1 784V808.5"/><path d="M981.7 784V808.5"/><path d="M989.7 784V808.5"/><path d="M1005.9 784V808.5"/><path d="M1017.9 784V808.5"/><path d="M1023.4 784V808.5"/><path d="M1024 784V808.5"/><path d="M1168.2 784V808.5"/></g>
<g stroke="#CD0000" stroke-opacity="0.5" stroke-width="2.2" fill="none"><path d="M858.3 784V808.5"/><path d="M858.9 784V808.5"/><path d="M760 784V808.5"/><path d="M763.8 784V808.5"/><path d="M764.4 784V808.5"/><path d="M785.1 784V808.5"/><path d="M786.9 784V808.5"/><path d="M788.6 784V808.5"/><path d="M790.9 784V808.5"/><path d="M796.2 784V808.5"/><path d="M808.1 784V808.5"/><path d="M808.7 784V808.5"/><path d="M818.3 784V808.5"/><path d="M818.9 784V808.5"/><path d="M819.5 784V808.5"/><path d="M821.6 784V808.5"/><path d="M824.3 784V808.5"/><path d="M831.8 784V808.5"/><path d="M833.6 784V808.5"/><path d="M837.6 784V808.5"/><path d="M838.5 784V808.5"/><path d="M839.4 784V808.5"/><path d="M840.2 784V808.5"/><path d="M840.9 784V808.5"/><path d="M846.1 784V808.5"/><path d="M847.9 784V808.5"/><path d="M860.8 784V808.5"/><path d="M862.5 784V808.5"/><path d="M864.3 784V808.5"/><path d="M866.1 784V808.5"/><path d="M876.8 784V808.5"/><path d="M883 784V808.5"/><path d="M885.2 784V808.5"/><path d="M886.6 784V808.5"/><path d="M897.7 784V808.5"/><path d="M904.8 784V808.5"/><path d="M906.1 784V808.5"/><path d="M906.7 784V808.5"/><path d="M914.1 784V808.5"/><path d="M920.4 784V808.5"/><path d="M921.7 784V808.5"/><path d="M924.5 784V808.5"/><path d="M925.1 784V808.5"/><path d="M941.7 784V808.5"/><path d="M942.3 784V808.5"/><path d="M945.3 784V808.5"/><path d="M964.5 784V808.5"/><path d="M1013.9 784V808.5"/><path d="M1019.5 784V808.5"/><path d="M1029.6 784V808.5"/></g>
<path d="M871 12.5V808.5" stroke="#3A5FCD" stroke-width="2.5" stroke-dasharray="10 9.68" fill="none"/>
<path d="M858.5 12.5V808.5" stroke="#CD0000" stroke-width="2.5" stroke-dasharray="10 9.68" fill="none"/>
<path d="M733.5 4.7V809.1H1188" stroke="#000" stroke-width="2.6" fill="none" stroke-linecap="square" stroke-linejoin="miter"/>
<path d="M726.5 772.5H733.5M726.5 492.5H733.5M726.5 212.5H733.5M845.2 809.1V816.1M1019.6 809.1V816.1" stroke="#000" stroke-width="2.3" fill="none"/>
<text x="720.7" y="783.1" text-anchor="end" font-size="27.7">0.00</text>
<text x="720.7" y="503.1" text-anchor="end" font-size="27.7">0.05</text>
<text x="720.7" y="223.1" text-anchor="end" font-size="27.7">0.10</text>
<text x="845.2" y="842" text-anchor="middle" font-size="27.7">10</text>
<text x="1019.6" y="842" text-anchor="middle" font-size="27.7">20</text>
<text x="961" y="874" text-anchor="middle" font-size="27.5">Worst-case of SNR-value</text>
<text transform="translate(629.4 406) rotate(-90)" text-anchor="middle" font-size="27.5">density</text>
<text transform="translate(618.4 24.6) scale(0.945 1)" font-size="34.2" font-weight="bold">b</text>
</g>
<g>
<path d="M1361.2 772.3 L1361.2 564.2C1362 558.1 1364 540.3 1365.5 527.5C1367 514.7 1368.5 500.4 1370 487.5C1371.5 474.6 1373.2 461.1 1374.5 450C1375.8 438.9 1376.7 430.6 1378 421C1379.3 411.4 1381.1 402.2 1382.5 392.5C1383.9 382.8 1385 372.1 1386.2 362.5C1387.5 352.9 1388.8 343.8 1390 335C1391.2 326.2 1392.3 318.8 1393.8 310C1395.2 301.2 1397.1 290.8 1398.8 282.5C1400.4 274.2 1402 267.1 1403.8 260C1405.5 252.9 1407.1 246.7 1409 240C1410.9 233.3 1412.9 227.1 1415.2 220C1417.5 212.9 1420.3 204.4 1423 197.5C1425.7 190.6 1428.7 183.9 1431.2 178.8C1433.8 173.6 1435.9 169.4 1438.3 166.5C1440.7 163.6 1443.4 161.1 1445.8 161.2C1448.1 161.4 1450.5 164.8 1452.5 167.5C1454.5 170.2 1455.8 173.3 1457.5 177.5C1459.2 181.7 1460.8 186.2 1462.5 192.5C1464.2 198.8 1465.8 207.1 1467.5 215C1469.2 222.9 1470.8 231.2 1472.5 240C1474.2 248.8 1475.9 257.5 1477.5 267.5C1479.1 277.5 1480.4 288.3 1482 300C1483.6 311.7 1485.3 325 1486.9 337.5C1488.5 350 1490.2 362.5 1491.7 375C1493.2 387.5 1494.7 400.4 1496.2 412.5C1497.7 424.6 1499.5 438.8 1500.6 447.5C1501.6 456.2 1501.5 457.1 1502.5 465C1503.5 472.9 1504.8 484.6 1506.3 495C1507.8 505.4 1509.6 517.1 1511.5 527.5C1513.4 537.9 1515.7 548.3 1517.5 557.5C1519.3 566.7 1520.8 575.6 1522.5 582.5C1524.2 589.4 1525.8 594.8 1527.5 598.8C1529.2 602.7 1530.9 604.7 1532.5 606.2C1534.1 607.8 1535.3 608.2 1537 608C1538.7 607.8 1540.8 606.5 1542.5 605C1544.2 603.5 1545.8 601.2 1547.5 598.8C1549.2 596.2 1550.8 592.9 1552.5 590C1554.2 587.1 1555.8 583.5 1557.5 581.2C1559.2 579 1560.8 577.3 1562.5 576.2C1564.2 575.2 1566.1 574.7 1568 575C1569.9 575.3 1571.8 575.7 1573.8 578C1575.8 580.3 1577.9 584.4 1580 588.8C1582.1 593.1 1584.2 598.1 1586.2 604C1588.3 609.9 1590.4 617 1592.5 624C1594.6 631 1596.7 638.6 1598.8 646.2C1600.8 653.9 1602.9 662.5 1605 670C1607.1 677.5 1609.2 684.8 1611.2 691.2C1613.3 697.7 1615.4 703.9 1617.5 708.8C1619.6 713.6 1621.7 717.5 1623.8 720.5C1625.8 723.5 1627.9 725.6 1630 727C1632.1 728.4 1633.8 728.9 1636.2 729C1638.8 729.1 1641.9 728.1 1645 727.5C1648.1 726.9 1652.1 725.5 1655 725.5C1657.9 725.5 1660 726.2 1662.5 727.5C1665 728.8 1667.1 730.3 1670 733C1672.9 735.7 1676.7 740.1 1680 743.8C1683.3 747.4 1686.7 751.8 1690 755C1693.3 758.2 1696.7 760.9 1700 763C1703.3 765.1 1706.5 766.5 1710 767.5C1713.5 768.5 1717.5 768.8 1721.2 768.8C1725 768.7 1728.5 768.2 1732.5 767C1736.5 765.8 1740.8 763.3 1745 761.2C1749.2 759.2 1753.8 756.2 1757.5 754.5C1761.2 752.8 1764.4 751.6 1767.5 750.8C1770.6 749.9 1774.8 749.5 1776.2 749.2L1776.2 772.3Z" fill="#3A5FCD" fill-opacity="0.5"/>
<path d="M1361.2 564.2C1362 558.1 1364 540.3 1365.5 527.5C1367 514.7 1368.5 500.4 1370 487.5C1371.5 474.6 1373.2 461.1 1374.5 450C1375.8 438.9 1376.7 430.6 1378 421C1379.3 411.4 1381.1 402.2 1382.5 392.5C1383.9 382.8 1385 372.1 1386.2 362.5C1387.5 352.9 1388.8 343.8 1390 335C1391.2 326.2 1392.3 318.8 1393.8 310C1395.2 301.2 1397.1 290.8 1398.8 282.5C1400.4 274.2 1402 267.1 1403.8 260C1405.5 252.9 1407.1 246.7 1409 240C1410.9 233.3 1412.9 227.1 1415.2 220C1417.5 212.9 1420.3 204.4 1423 197.5C1425.7 190.6 1428.7 183.9 1431.2 178.8C1433.8 173.6 1435.9 169.4 1438.3 166.5C1440.7 163.6 1443.4 161.1 1445.8 161.2C1448.1 161.4 1450.5 164.8 1452.5 167.5C1454.5 170.2 1455.8 173.3 1457.5 177.5C1459.2 181.7 1460.8 186.2 1462.5 192.5C1464.2 198.8 1465.8 207.1 1467.5 215C1469.2 222.9 1470.8 231.2 1472.5 240C1474.2 248.8 1475.9 257.5 1477.5 267.5C1479.1 277.5 1480.4 288.3 1482 300C1483.6 311.7 1485.3 325 1486.9 337.5C1488.5 350 1490.2 362.5 1491.7 375C1493.2 387.5 1494.7 400.4 1496.2 412.5C1497.7 424.6 1499.5 438.8 1500.6 447.5C1501.6 456.2 1501.5 457.1 1502.5 465C1503.5 472.9 1504.8 484.6 1506.3 495C1507.8 505.4 1509.6 517.1 1511.5 527.5C1513.4 537.9 1515.7 548.3 1517.5 557.5C1519.3 566.7 1520.8 575.6 1522.5 582.5C1524.2 589.4 1525.8 594.8 1527.5 598.8C1529.2 602.7 1530.9 604.7 1532.5 606.2C1534.1 607.8 1535.3 608.2 1537 608C1538.7 607.8 1540.8 606.5 1542.5 605C1544.2 603.5 1545.8 601.2 1547.5 598.8C1549.2 596.2 1550.8 592.9 1552.5 590C1554.2 587.1 1555.8 583.5 1557.5 581.2C1559.2 579 1560.8 577.3 1562.5 576.2C1564.2 575.2 1566.1 574.7 1568 575C1569.9 575.3 1571.8 575.7 1573.8 578C1575.8 580.3 1577.9 584.4 1580 588.8C1582.1 593.1 1584.2 598.1 1586.2 604C1588.3 609.9 1590.4 617 1592.5 624C1594.6 631 1596.7 638.6 1598.8 646.2C1600.8 653.9 1602.9 662.5 1605 670C1607.1 677.5 1609.2 684.8 1611.2 691.2C1613.3 697.7 1615.4 703.9 1617.5 708.8C1619.6 713.6 1621.7 717.5 1623.8 720.5C1625.8 723.5 1627.9 725.6 1630 727C1632.1 728.4 1633.8 728.9 1636.2 729C1638.8 729.1 1641.9 728.1 1645 727.5C1648.1 726.9 1652.1 725.5 1655 725.5C1657.9 725.5 1660 726.2 1662.5 727.5C1665 728.8 1667.1 730.3 1670 733C1672.9 735.7 1676.7 740.1 1680 743.8C1683.3 747.4 1686.7 751.8 1690 755C1693.3 758.2 1696.7 760.9 1700 763C1703.3 765.1 1706.5 766.5 1710 767.5C1713.5 768.5 1717.5 768.8 1721.2 768.8C1725 768.7 1728.5 768.2 1732.5 767C1736.5 765.8 1740.8 763.3 1745 761.2C1749.2 759.2 1753.8 756.2 1757.5 754.5C1761.2 752.8 1764.4 751.6 1767.5 750.8C1770.6 749.9 1774.8 749.5 1776.2 749.2" fill="none" stroke="#3A5FCD" stroke-width="2.45" stroke-linejoin="round"/>
<path d="M1361.2 772.3 L1361.2 576.2C1361.9 570.2 1363.5 553.5 1365 540C1366.5 526.5 1368.5 508.8 1370 495C1371.5 481.2 1372.8 469.1 1374 457C1375.2 444.9 1376.3 434.1 1377.5 422.5C1378.7 410.9 1380 399.6 1381.2 387.5C1382.5 375.4 1383.8 362.5 1385 350C1386.2 337.5 1387.3 325.4 1388.8 312.5C1390.2 299.6 1392.1 284.6 1393.5 272.5C1394.9 260.4 1396 250 1397.2 240C1398.4 230 1399.4 223.3 1400.9 212.5C1402.4 201.7 1404.4 187.1 1406 175C1407.6 162.9 1409 151.2 1410.6 140C1412.2 128.8 1413.9 117.5 1415.6 107.5C1417.3 97.5 1418.9 88.1 1420.6 80C1422.2 71.9 1423.9 64.6 1425.5 58.8C1427.1 52.9 1428.7 48 1430.2 44.8C1431.7 41.6 1432.9 39.7 1434.2 39.7C1435.6 39.7 1437 41.4 1438.5 44.8C1440 48.2 1441.7 53.3 1443.3 60C1444.9 66.7 1446.5 75.4 1448.1 85C1449.7 94.6 1451.3 105 1453 117.5C1454.7 130 1456.3 145 1458 160C1459.7 175 1461.8 194.2 1463.3 207.5C1464.8 220.8 1465.7 229.6 1467 240C1468.3 250.4 1469.7 259.2 1471.2 270C1472.8 280.8 1474.6 293.3 1476.2 305C1477.9 316.7 1479.5 327.5 1481.2 340C1483 352.5 1484.9 367.1 1486.8 380C1488.7 392.9 1490.8 405.4 1492.8 417.5C1494.8 429.6 1496.9 442.1 1498.8 452.5C1500.7 462.9 1502 470 1504.1 480C1506.2 490 1509.2 503.8 1511.3 512.5C1513.4 521.2 1514.6 526.7 1516.5 532.5C1518.4 538.3 1520.7 543.1 1522.5 547.5C1524.3 551.9 1525.6 555.7 1527.5 558.8C1529.4 561.8 1531.7 564.2 1533.8 565.8C1535.8 567.3 1537.9 567.7 1540 568.2C1542.1 568.8 1544.2 568.5 1546.2 569C1548.3 569.5 1550.4 569.8 1552.5 571.2C1554.6 572.7 1556.7 574.4 1558.8 577.5C1560.8 580.6 1562.9 585 1565 590C1567.1 595 1569.2 601.2 1571.2 607.5C1573.3 613.8 1575.6 621.8 1577.5 628C1579.4 634.2 1580.4 637.6 1582.5 645C1584.6 652.4 1587.5 663.8 1590 672.5C1592.5 681.2 1595 690.2 1597.5 697.5C1600 704.8 1602.5 711 1605 716.2C1607.5 721.5 1609.6 724.8 1612.5 728.8C1615.4 732.7 1619.2 736.5 1622.5 740C1625.8 743.5 1629.2 746.9 1632.5 750C1635.8 753.1 1639.2 756.2 1642.5 758.8C1645.8 761.3 1649.2 763.7 1652.5 765.5C1655.8 767.3 1658.8 768.5 1662.5 769.5C1666.2 770.5 1670.4 771.3 1675 771.8C1679.6 772.2 1680.8 772.2 1690 772.3C1699.2 772.4 1715.6 772.3 1730 772.3C1744.4 772.3 1768.5 772.3 1776.2 772.3L1776.2 772.3Z" fill="#CD0000" fill-opacity="0.5"/>
<path d="M1361.2 576.2C1361.9 570.2 1363.5 553.5 1365 540C1366.5 526.5 1368.5 508.8 1370 495C1371.5 481.2 1372.8 469.1 1374 457C1375.2 444.9 1376.3 434.1 1377.5 422.5C1378.7 410.9 1380 399.6 1381.2 387.5C1382.5 375.4 1383.8 362.5 1385 350C1386.2 337.5 1387.3 325.4 1388.8 312.5C1390.2 299.6 1392.1 284.6 1393.5 272.5C1394.9 260.4 1396 250 1397.2 240C1398.4 230 1399.4 223.3 1400.9 212.5C1402.4 201.7 1404.4 187.1 1406 175C1407.6 162.9 1409 151.2 1410.6 140C1412.2 128.8 1413.9 117.5 1415.6 107.5C1417.3 97.5 1418.9 88.1 1420.6 80C1422.2 71.9 1423.9 64.6 1425.5 58.8C1427.1 52.9 1428.7 48 1430.2 44.8C1431.7 41.6 1432.9 39.7 1434.2 39.7C1435.6 39.7 1437 41.4 1438.5 44.8C1440 48.2 1441.7 53.3 1443.3 60C1444.9 66.7 1446.5 75.4 1448.1 85C1449.7 94.6 1451.3 105 1453 117.5C1454.7 130 1456.3 145 1458 160C1459.7 175 1461.8 194.2 1463.3 207.5C1464.8 220.8 1465.7 229.6 1467 240C1468.3 250.4 1469.7 259.2 1471.2 270C1472.8 280.8 1474.6 293.3 1476.2 305C1477.9 316.7 1479.5 327.5 1481.2 340C1483 352.5 1484.9 367.1 1486.8 380C1488.7 392.9 1490.8 405.4 1492.8 417.5C1494.8 429.6 1496.9 442.1 1498.8 452.5C1500.7 462.9 1502 470 1504.1 480C1506.2 490 1509.2 503.8 1511.3 512.5C1513.4 521.2 1514.6 526.7 1516.5 532.5C1518.4 538.3 1520.7 543.1 1522.5 547.5C1524.3 551.9 1525.6 555.7 1527.5 558.8C1529.4 561.8 1531.7 564.2 1533.8 565.8C1535.8 567.3 1537.9 567.7 1540 568.2C1542.1 568.8 1544.2 568.5 1546.2 569C1548.3 569.5 1550.4 569.8 1552.5 571.2C1554.6 572.7 1556.7 574.4 1558.8 577.5C1560.8 580.6 1562.9 585 1565 590C1567.1 595 1569.2 601.2 1571.2 607.5C1573.3 613.8 1575.6 621.8 1577.5 628C1579.4 634.2 1580.4 637.6 1582.5 645C1584.6 652.4 1587.5 663.8 1590 672.5C1592.5 681.2 1595 690.2 1597.5 697.5C1600 704.8 1602.5 711 1605 716.2C1607.5 721.5 1609.6 724.8 1612.5 728.8C1615.4 732.7 1619.2 736.5 1622.5 740C1625.8 743.5 1629.2 746.9 1632.5 750C1635.8 753.1 1639.2 756.2 1642.5 758.8C1645.8 761.3 1649.2 763.7 1652.5 765.5C1655.8 767.3 1658.8 768.5 1662.5 769.5C1666.2 770.5 1670.4 771.3 1675 771.8C1679.6 772.2 1680.8 772.2 1690 772.3C1699.2 772.4 1715.6 772.3 1730 772.3C1744.4 772.3 1768.5 772.3 1776.2 772.3" fill="none" stroke="#CD0000" stroke-width="2.45" stroke-linejoin="round"/>
<g stroke="#3A5FCD" stroke-opacity="0.5" stroke-width="2.2" fill="none"><path d="M1361.6 784V808.5"/><path d="M1368.9 784V808.5"/><path d="M1378.9 784V808.5"/><path d="M1380.7 784V808.5"/><path d="M1382.5 784V808.5"/><path d="M1392.7 784V808.5"/><path d="M1395.9 784V808.5"/><path d="M1397.2 784V808.5"/><path d="M1399.4 784V808.5"/><path d="M1410.1 784V808.5"/><path d="M1411.4 784V808.5"/><path d="M1417.9 784V808.5"/><path d="M1425.7 784V808.5"/><path d="M1428.4 784V808.5"/><path d="M1430.6 784V808.5"/><path d="M1437.3 784V808.5"/><path d="M1440.8 784V808.5"/><path d="M1448 784V808.5"/><path d="M1449.7 784V808.5"/><path d="M1455.5 784V808.5"/><path d="M1460.9 784V808.5"/><path d="M1467.1 784V808.5"/><path d="M1468.6 784V808.5"/><path d="M1469.8 784V808.5"/><path d="M1474.2 784V808.5"/><path d="M1480.9 784V808.5"/><path d="M1492 784V808.5"/><path d="M1493.8 784V808.5"/><path d="M1495.6 784V808.5"/><path d="M1504.9 784V808.5"/><path d="M1510.6 784V808.5"/><path d="M1511.2 784V808.5"/><path d="M1545.4 784V808.5"/><path d="M1548.8 784V808.5"/><path d="M1561.4 784V808.5"/><path d="M1563.2 784V808.5"/><path d="M1564.6 784V808.5"/><path d="M1579 784V808.5"/><path d="M1584.6 784V808.5"/><path d="M1586.2 784V808.5"/><path d="M1588 784V808.5"/><path d="M1593 784V808.5"/><path d="M1651.6 784V808.5"/><path d="M1664.2 784V808.5"/><path d="M1776.2 784V808.5"/></g>
<g stroke="#CD0000" stroke-opacity="0.5" stroke-width="2.2" fill="none"><path d="M1366 784V808.5"/><path d="M1367.4 784V808.5"/><path d="M1382.5 784V808.5"/><path d="M1388.4 784V808.5"/><path d="M1389 784V808.5"/><path d="M1392.7 784V808.5"/><path d="M1394.5 784V808.5"/><path d="M1399.4 784V808.5"/><path d="M1401.6 784V808.5"/><path d="M1403.9 784V808.5"/><path d="M1405.7 784V808.5"/><path d="M1407.4 784V808.5"/><path d="M1408 784V808.5"/><path d="M1413.9 784V808.5"/><path d="M1425.7 784V808.5"/><path d="M1432.5 784V808.5"/><path d="M1433.1 784V808.5"/><path d="M1434.1 784V808.5"/><path d="M1434.7 784V808.5"/><path d="M1435.5 784V808.5"/><path d="M1436.1 784V808.5"/><path d="M1437.3 784V808.5"/><path d="M1439 784V808.5"/><path d="M1440.8 784V808.5"/><path d="M1442.6 784V808.5"/><path d="M1444.4 784V808.5"/><path d="M1445.7 784V808.5"/><path d="M1448 784V808.5"/><path d="M1449.7 784V808.5"/><path d="M1457.7 784V808.5"/><path d="M1460.9 784V808.5"/><path d="M1469.8 784V808.5"/><path d="M1476.4 784V808.5"/><path d="M1480.9 784V808.5"/><path d="M1483.6 784V808.5"/><path d="M1485.1 784V808.5"/><path d="M1485.7 784V808.5"/><path d="M1487.1 784V808.5"/><path d="M1489.8 784V808.5"/><path d="M1495.6 784V808.5"/><path d="M1497.8 784V808.5"/><path d="M1508 784V808.5"/><path d="M1509.4 784V808.5"/><path d="M1517.2 784V808.5"/><path d="M1529.4 784V808.5"/><path d="M1535.6 784V808.5"/><path d="M1543.2 784V808.5"/><path d="M1553.9 784V808.5"/><path d="M1561.4 784V808.5"/><path d="M1568.3 784V808.5"/><path d="M1568.9 784V808.5"/><path d="M1572.3 784V808.5"/><path d="M1616.5 784V808.5"/></g>
<path d="M1468.2 12.5V808.5" stroke="#3A5FCD" stroke-width="2.5" stroke-dasharray="10 9.68" fill="none"/>
<path d="M1454.5 12.5V808.5" stroke="#CD0000" stroke-width="2.5" stroke-dasharray="10 9.68" fill="none"/>
<path d="M1341 4.7V809.1H1797" stroke="#000" stroke-width="2.6" fill="none" stroke-linecap="square" stroke-linejoin="miter"/>
<path d="M1334 772H1341M1334 592H1341M1334 412H1341M1334 232H1341M1334 52H1341M1424.6 809.1V816.1M1558.4 809.1V816.1M1692.5 809.1V816.1" stroke="#000" stroke-width="2.3" fill="none"/>
<text x="1328.7" y="782.6" text-anchor="end" font-size="27.7">0.00</text>
<text x="1328.7" y="602.6" text-anchor="end" font-size="27.7">0.01</text>
<text x="1328.7" y="422.6" text-anchor="end" font-size="27.7">0.02</text>
<text x="1328.7" y="242.6" text-anchor="end" font-size="27.7">0.03</text>
<text x="1328.7" y="62.6" text-anchor="end" font-size="27.7">0.04</text>
<text x="1424.6" y="842" text-anchor="middle" font-size="27.7">25</text>
<text x="1558.4" y="842" text-anchor="middle" font-size="27.7">50</text>
<text x="1692.5" y="842" text-anchor="middle" font-size="27.7">75</text>
<text x="1569" y="874" text-anchor="middle" font-size="27.5">Best-case of SNR-value</text>
<text transform="translate(1237.4 406) rotate(-90)" text-anchor="middle" font-size="27.5">density</text>
<text transform="translate(1222 24.6) scale(0.945 1)" font-size="34.2" font-weight="bold">c</text>
</g>
<g>
<text x="754.9" y="950" font-size="27.5">Group</text>
<rect x="846.6" y="921.4" width="36.2" height="36.2" fill="#3A5FCD" fill-opacity="0.5" stroke="#3A5FCD" stroke-width="1.9"/>
<path d="M849.4 939.5H880" stroke="#3A5FCD" stroke-opacity="0.5" stroke-width="1.6"/>
<path d="M864.7 959.1V949.4M864.7 939.7V929.9M864.7 920.4V919" stroke="#3A5FCD" stroke-width="2.3" fill="none"/>
<text x="898.1" y="947.6" font-size="22.1">HC</text>
<rect x="945.1" y="921.4" width="36.2" height="36.2" fill="#CD0000" fill-opacity="0.5" stroke="#CD0000" stroke-width="1.9"/>
<path d="M947.9 939.5H978.5" stroke="#CD0000" stroke-opacity="0.5" stroke-width="1.6"/>
<path d="M963.2 959.1V949.4M963.2 939.7V929.9M963.2 920.4V919" stroke="#CD0000" stroke-width="2.3" fill="none"/>
<text x="996.7" y="947.6" font-size="22.1">CUD</text>
</g>
</svg>
</body></html>
